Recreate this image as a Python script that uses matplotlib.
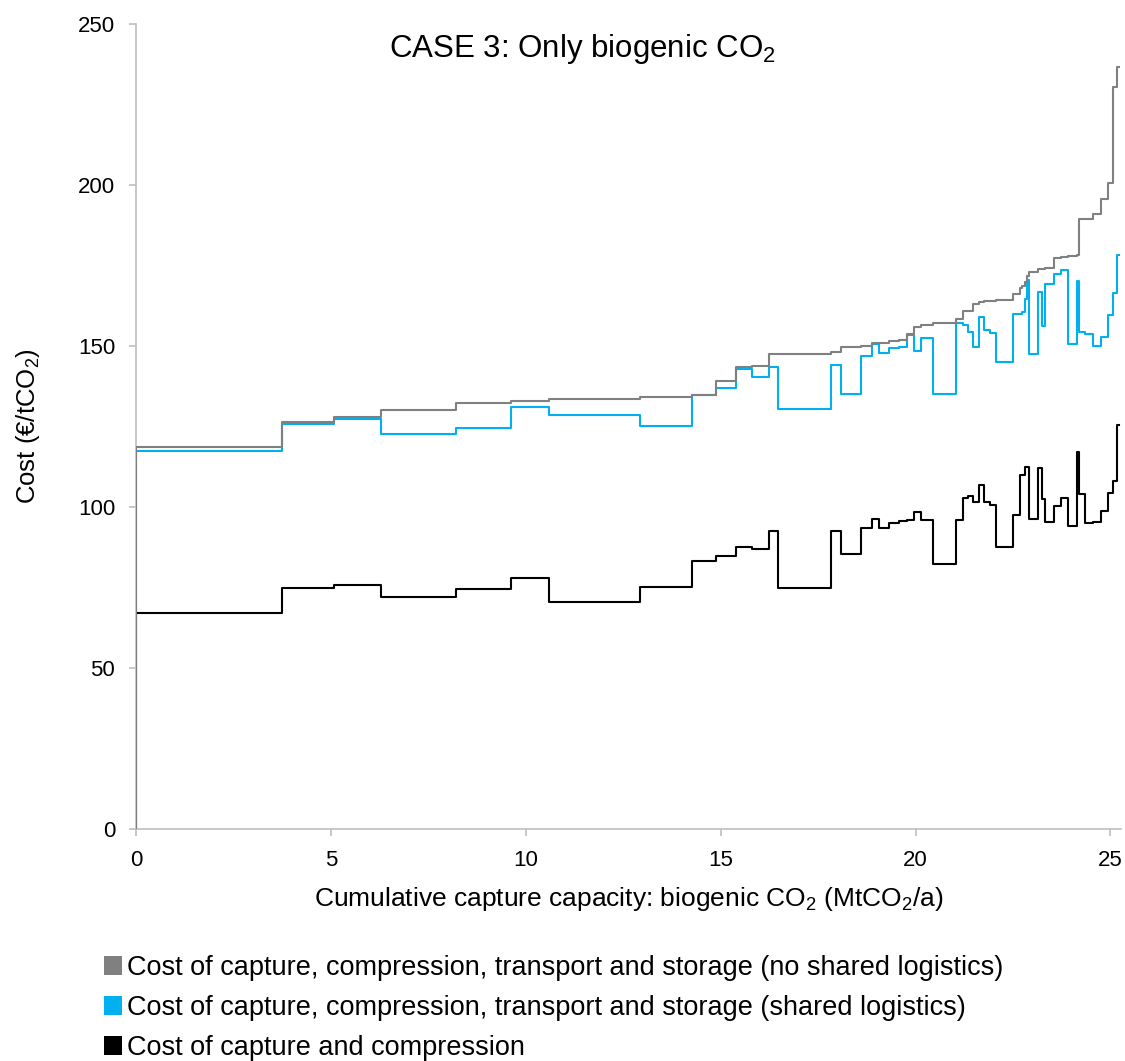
import numpy as np
import matplotlib
matplotlib.use("Agg")
import matplotlib.pyplot as plt
from matplotlib.patches import Rectangle

plt.rcParams['font.family'] = ['Liberation Sans', 'DejaVu Sans']
plt.rcParams['mathtext.fontset'] = 'custom'
plt.rcParams['mathtext.rm'] = 'Liberation Sans'
plt.rcParams['mathtext.it'] = 'Liberation Sans'

# left edge of each capture source on the cumulative capacity axis (MtCO2/a), last value = end
capacity_edges = [0.00, 3.74, 5.08, 6.29, 8.21, 9.63, 10.60, 12.93, 14.26, 14.87,
                  15.39, 15.81, 16.24, 16.46, 17.84, 18.10, 18.60, 18.88, 19.07, 19.33,
                  19.58, 19.78, 19.95, 20.13, 20.44, 21.03, 21.22, 21.35, 21.48, 21.63,
                  21.76, 21.90, 22.07, 22.50, 22.67, 22.74, 22.81, 22.86, 22.92, 23.14,
                  23.24, 23.33, 23.56, 23.73, 23.90, 24.15, 24.20, 24.34, 24.55, 24.76,
                  24.95, 25.06, 25.17, 25.22]

# cost of capture, compression, transport and storage (no shared logistics)
cost_no_shared = [118.7, 126.4, 127.8, 130.1, 132.2, 132.8, 133.4, 134.0, 134.9, 139.2,
                  143.6, 143.7, 147.5, 147.6, 148.1, 149.7, 150.1, 150.8, 150.9, 151.6,
                  152.0, 153.8, 156.0, 156.5, 157.0, 158.5, 160.9, 161.0, 163.0, 163.7,
                  163.9, 164.0, 164.2, 166.1, 167.9, 168.6, 170.0, 171.7, 173.0, 173.8,
                  174.0, 174.1, 177.2, 177.7, 178.0, 178.4, 189.4, 189.5, 190.9, 195.7,
                  200.5, 230.3, 236.6]

# cost of capture, compression, transport and storage (shared logistics)
cost_shared = [117.4, 125.8, 127.2, 122.7, 124.5, 131.2, 128.6, 125.2, 134.7, 137.0,
               142.9, 140.4, 143.4, 130.3, 144.1, 135.1, 146.9, 150.6, 147.7, 149.3,
               149.8, 153.4, 148.5, 152.6, 135.1, 157.0, 156.4, 154.4, 149.8, 159.1,
               155.1, 154.1, 145.1, 159.9, 160.0, 160.6, 164.7, 170.5, 147.4, 166.8,
               156.2, 169.2, 172.2, 173.6, 150.6, 170.3, 154.4, 153.6, 150.0, 152.9,
               159.6, 166.3, 178.3]

# cost of capture and compression only
cost_capture = [67.0, 74.8, 75.9, 72.0, 74.5, 77.8, 70.4, 75.0, 83.1, 84.8,
                87.7, 87.1, 92.6, 74.8, 92.6, 85.3, 93.4, 96.4, 93.6, 95.1,
                95.7, 96.0, 98.4, 95.8, 82.3, 96.1, 102.8, 103.4, 101.6, 106.8,
                101.6, 100.6, 87.7, 97.5, 109.9, 110.0, 112.3, 112.5, 96.4, 112.0,
                102.6, 95.4, 100.3, 102.9, 94.1, 117.0, 104.0, 95.1, 95.4, 98.8,
                104.2, 108.1, 125.5]

series_labels = [
    "Cost of capture, compression, transport and storage (no shared logistics)",
    "Cost of capture, compression, transport and storage (shared logistics)",
    "Cost of capture and compression",
]
series_colors = ["#808080", "#00B0F0", "#000000"]

fig = plt.figure(figsize=(11.25, 10.61), dpi=100)
ax = fig.add_axes([0.1209, 0.2187, 0.8755, 0.7587])


def step_xy(values):
    # curve starts from zero at x = 0, then one flat step per source
    xs = np.r_[0.0, capacity_edges]
    ys = np.r_[0.0, values, values[-1]]
    return xs, ys


for vals, col, z in [(cost_capture, series_colors[2], 2),
                     (cost_shared, series_colors[1], 3),
                     (cost_no_shared, series_colors[0], 4)]:
    xs, ys = step_xy(vals)
    ax.step(xs, ys, where='post', color=col, lw=1.5, zorder=z)

ax.set_xlim(0, 25.27)
ax.set_ylim(0, 250)
ax.set_xticks([0, 5, 10, 15, 20, 25])
ax.set_yticks([0, 50, 100, 150, 200, 250])

for side in ['top', 'right']:
    ax.spines[side].set_visible(False)
for side in ['left', 'bottom']:
    ax.spines[side].set_color('#BFBFBF')
    ax.spines[side].set_linewidth(1.2)
ax.tick_params(axis='both', direction='out', length=5, width=1.2, color='#BFBFBF',
               labelsize=16, labelcolor='black')
ax.tick_params(axis='x', pad=10)
ax.tick_params(axis='y', pad=10)

ax.set_xlabel(r"Cumulative capture capacity: biogenic CO$_\mathregular{2}$ (MtCO$_\mathregular{2}$/a)",
              fontsize=19, labelpad=10)
fig.text(0.025, 0.598, r"Cost (€/tCO$_\mathregular{2}$)", rotation=90, fontsize=18.5,
         ha='center', va='center')

fig.text(0.518, 0.954, r"CASE 3: Only biogenic CO$_\mathregular{2}$", fontsize=22.5,
         ha='center', va='center')

handles = [Rectangle((0, 0), 1, 1, facecolor=c, edgecolor='none') for c in series_colors]
fig.legend(handles, series_labels, loc='upper left', bbox_to_anchor=(0.092, 0.1),
           frameon=False, fontsize=19.5, handlelength=0.7, handleheight=0.7,
           handletextpad=0.15, labelspacing=0.52, borderaxespad=0, borderpad=0)

fig.savefig("out.png", dpi=100)
